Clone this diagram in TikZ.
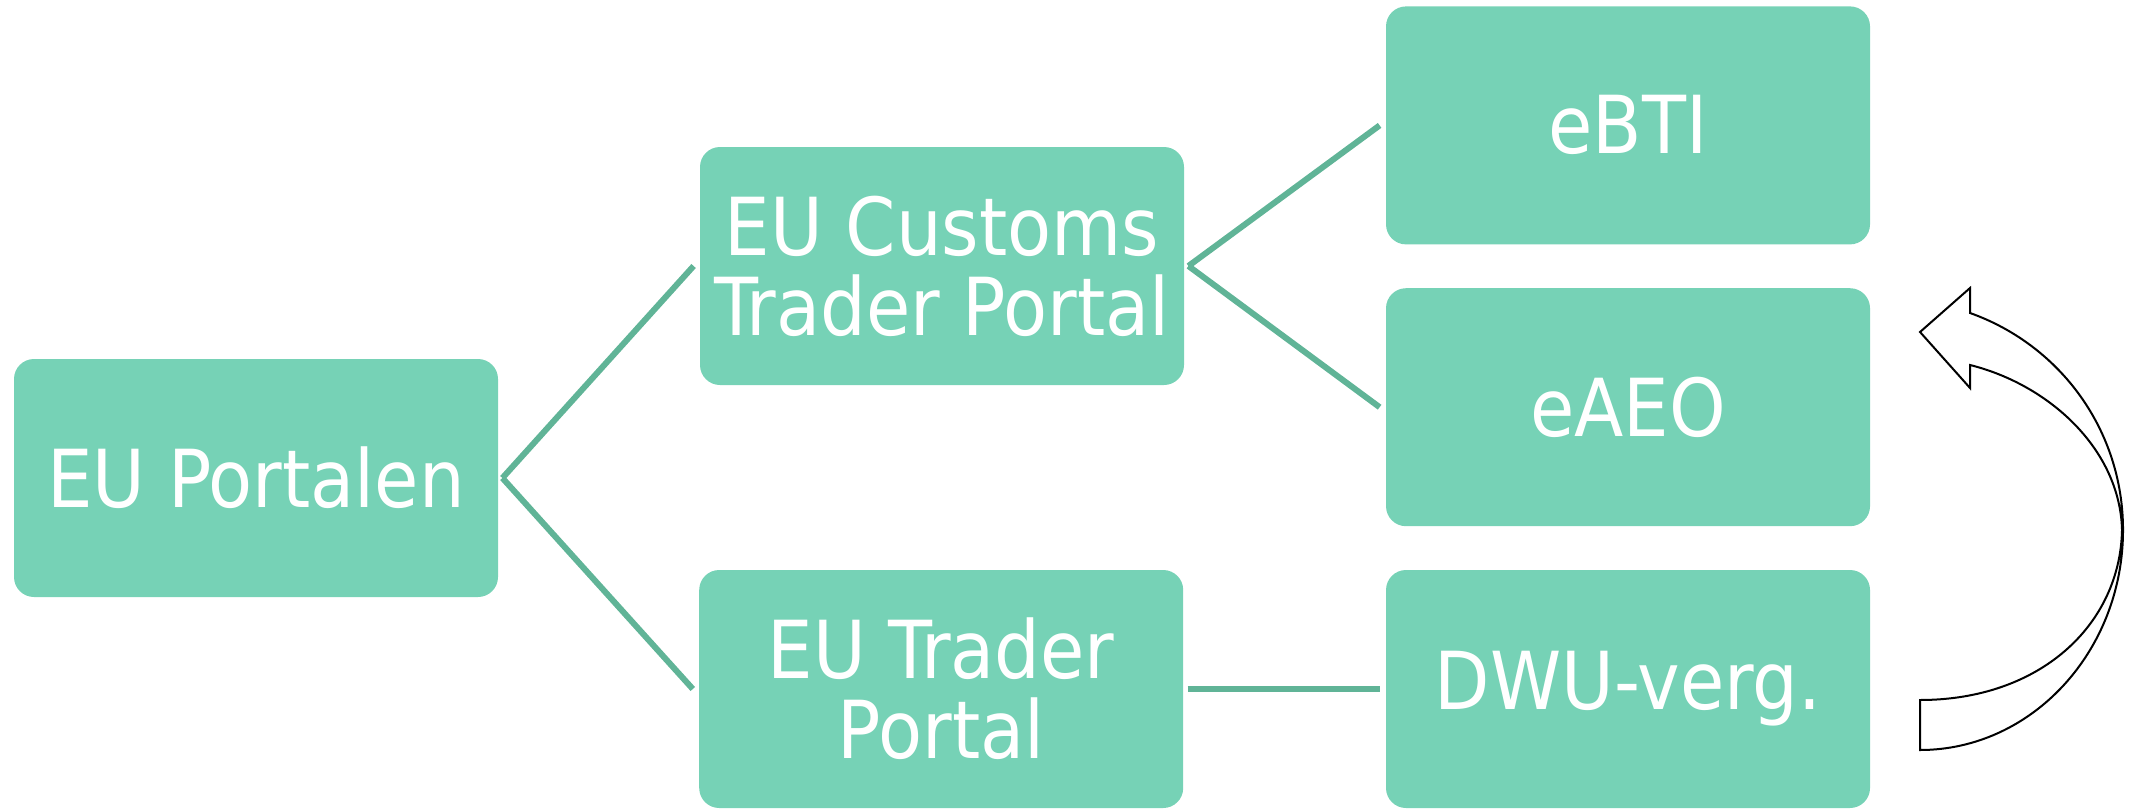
\documentclass[tikz,border=0pt]{standalone}
\usepackage{fontspec}
\newfontfamily\boxfont{DejaVu Sans Condensed}
\usepackage{tikz}
\usetikzlibrary{positioning}

\definecolor{boxgreen}{HTML}{76D2B6}
\definecolor{linkgreen}{HTML}{60B497}

\begin{document}
\begin{tikzpicture}[
        x=0.5pt, y=-0.5pt,
        node distance=101pt,
        box/.style={
            rectangle,
            fill=boxgreen,
            text=white,
            minimum width=242pt,
            minimum height=119pt,
            align=center,
            rounded corners=10pt,
            font=\boxfont\fontsize{40}{40}\selectfont
        },
        link/.style={
            draw=linkgreen,
            line width=3pt
        }
    ]
    \useasboundingbox (0,0) rectangle (2139,808);

    % Right column
    \node[box] (dwu) at (1628,689) {DWU-verg.};
    \node[box, above=21.5pt of dwu] (eaeo) {eAEO};
    \node[box, above=21.5pt of eaeo] (ebti) {eBTI};

    % Middle column
    \node[box, left=of dwu] (etp) {EU Trader\\Portal};
    \node[box] (ectp) at (942,266) {EU Customs\\Trader Portal};

    % Left
    \node[box] (portalen) at (256,478) {EU Portalen};

    % Connections
    \draw[link] ([xshift=2pt]portalen.east) -- ([xshift=-3pt]ectp.west);
    \draw[link] ([xshift=2pt]portalen.east) -- ([xshift=-3pt]etp.west);
    \draw[link] ([xshift=2pt]ectp.east) -- ([xshift=-3pt]ebti.west);
    \draw[link] ([xshift=2pt]ectp.east) -- ([xshift=-3pt]eaeo.west);
    \draw[link] ([xshift=2pt]etp.east) -- ([xshift=-3pt]dwu.west);

    % Curved arrow back up
    \coordinate (tailtop) at (1920,700);
    \draw[line width=1pt, fill=white, line join=miter]
        (1920,750) .. controls (2032,750) and (2123,651) .. (2123,530)
        .. controls (2123,430) and (2060,345) .. (1970,313)
        -- (1970,288) -- (1920,332) -- (1970,388) -- (1970,365)
        .. controls (2050,385) and (2120,450) .. (2122,530)
        .. controls (2120,625) and (2040,700) .. (tailtop) -- cycle;

\end{tikzpicture}
\end{document}
